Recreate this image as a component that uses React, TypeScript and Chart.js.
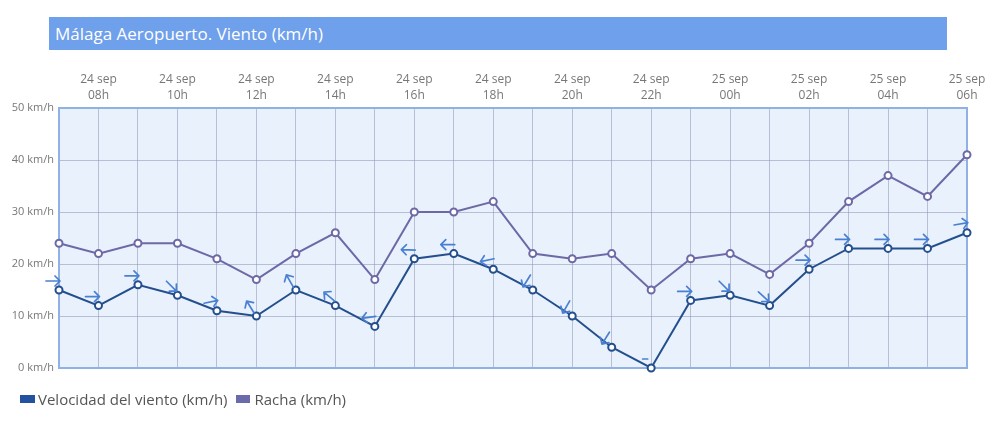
import React, { useEffect, useRef } from "react";
import { Chart, registerables } from "chart.js";

Chart.register(...registerables);

const dayLabels = ["24 sep","24 sep","24 sep","24 sep","24 sep","24 sep","24 sep","24 sep","24 sep","24 sep","24 sep","24 sep","24 sep","24 sep","24 sep","24 sep","24 sep","25 sep","25 sep","25 sep","25 sep","25 sep","25 sep","25 sep"];
const hourLabels = ["07h","08h","09h","10h","11h","12h","13h","14h","15h","16h","17h","18h","19h","20h","21h","22h","23h","00h","01h","02h","03h","04h","05h","06h"];
const windSpeed = [15,12,16,14,11,10,15,12,8,21,22,19,15,10,4,0,13,14,12,19,23,23,23,26];
const windGust = [24,22,24,24,21,17,22,26,17,30,30,32,22,21,22,15,21,22,18,24,32,37,33,41];
// arrow direction on screen, degrees (0 = pointing right, 90 = pointing down); null = calm
const windArrowAngles: (number | null)[] = [0,0,0,45,-12,-122,-120,-140,172,-178,180,168,122,120,122,null,0,45,42,0,0,0,0,-10];
const yTicks = [0,10,20,30,40,50];

const SPEED_COLOR = "#244f8d";
const GUST_COLOR = "#6d69a6";
const ARROW_COLOR = "#4a80d2";

const bgPlugin = {
  id: "plotBg",
  beforeDraw(chart: any) {
    const { ctx, chartArea: a } = chart;
    ctx.save();
    ctx.fillStyle = "#e9f1fc";
    ctx.fillRect(a.left, a.top, a.right - a.left, a.bottom - a.top);
    ctx.restore();
  },
  beforeDatasetsDraw(chart: any) {
    const { ctx, chartArea: a } = chart;
    ctx.save();
    ctx.strokeStyle = "#8fb1e4";
    ctx.lineWidth = 2;
    ctx.strokeRect(a.left, a.top, a.right - a.left, a.bottom - a.top);
    ctx.restore();
  },
};

const arrowPlugin = {
  id: "windArrows",
  afterDatasetsDraw(chart: any) {
    const meta = chart.getDatasetMeta(0);
    const ctx = chart.ctx;
    ctx.save();
    ctx.strokeStyle = ARROW_COLOR;
    ctx.lineWidth = 1.7;
    ctx.lineCap = "round";
    ctx.lineJoin = "round";
    meta.data.forEach((pt: any, i: number) => {
      const ang = windArrowAngles[i];
      ctx.save();
      ctx.translate(pt.x - 6, pt.y - 9);
      ctx.beginPath();
      if (ang === null) {
        ctx.moveTo(-2.5, 0);
        ctx.lineTo(2.5, 0);
      } else {
        ctx.rotate((ang * Math.PI) / 180);
        ctx.moveTo(-7, 0);
        ctx.lineTo(7, 0);
        ctx.moveTo(2, -5);
        ctx.lineTo(7, 0);
        ctx.lineTo(2, 5);
      }
      ctx.stroke();
      ctx.restore();
    });
    ctx.restore();
  },
};

export default function App() {
  const ref = useRef<HTMLCanvasElement>(null);
  useEffect(() => {
    if (!ref.current) return;
    const chart = new Chart(ref.current, {
      type: "line",
      data: {
        labels: hourLabels.map((h, i) => i),
        datasets: [
          {
            label: "Velocidad del viento (km/h)",
            data: windSpeed,
            borderColor: SPEED_COLOR,
            backgroundColor: "#ffffff",
            borderWidth: 2,
            pointRadius: 3.5,
            pointBorderWidth: 2,
            pointBackgroundColor: "#ffffff",
            pointBorderColor: SPEED_COLOR,
            tension: 0,
            clip: false as any,
          },
          {
            label: "Racha (km/h)",
            data: windGust,
            borderColor: GUST_COLOR,
            backgroundColor: "#ffffff",
            borderWidth: 2,
            pointRadius: 3.5,
            pointBorderWidth: 2,
            pointBackgroundColor: "#ffffff",
            pointBorderColor: GUST_COLOR,
            tension: 0,
            clip: false as any,
          },
        ],
      },
      options: {
        animation: false,
        responsive: false,
        maintainAspectRatio: false,
        layout: { padding: { left: 0, right: 25, top: 0, bottom: 57 } },
        plugins: { legend: { display: false }, tooltip: { enabled: false }, title: { display: false } },
        scales: {
          x: {
            type: "category",
            position: "top",
            offset: false,
            grid: { color: "rgba(140,150,180,0.55)", lineWidth: 1, drawTicks: false },
            border: { display: false },
            ticks: {
              autoSkip: false,
              maxRotation: 0,
              padding: 4,
              color: "#777777",
              font: { family: "'Open Sans'", size: 12, lineHeight: 1.35 },
              callback: (v: any, i: number) => (i % 2 === 1 ? [dayLabels[i], hourLabels[i]] : ""),
            },
            afterFit: (s: any) => {
              s.height = 108;
            },
          },
          y: {
            min: yTicks[0],
            max: yTicks[yTicks.length - 1],
            grid: { color: "rgba(140,150,180,0.55)", lineWidth: 1, drawTicks: false },
            border: { display: false },
            afterBuildTicks: (s: any) => {
              s.ticks = yTicks.map((v) => ({ value: v }));
            },
            ticks: {
              padding: 5,
              color: "#777777",
              font: { family: "'Open Sans'", size: 11 },
              callback: (v: any) => `${v} km/h`,
            },
            afterFit: (s: any) => {
              s.width = 59;
            },
          },
        },
      },
      plugins: [bgPlugin, arrowPlugin],
    });
    return () => chart.destroy();
  }, []);

  return (
    <div style={{ position: "absolute", left: 0, top: 0, width: 992, height: 425, background: "#fff", fontFamily: "'Open Sans', sans-serif" }}>
      <div
        style={{
          position: "absolute",
          left: 49,
          top: 17,
          width: 892,
          height: 33,
          paddingLeft: 6,
          background: "#6fa0eb",
          color: "#ffffff",
          fontSize: 17,
          lineHeight: "33px",
          whiteSpace: "nowrap",
        }}
      >
        Málaga Aeropuerto. Viento (km/h)
      </div>
      <canvas ref={ref} width={992} height={425} style={{ position: "absolute", left: 0, top: 0, width: 992, height: 425 }} />
      <div style={{ position: "absolute", left: 20, top: 388, height: 22, display: "flex", alignItems: "center", fontSize: 15, color: "#555555", whiteSpace: "nowrap" }}>
        <span style={{ display: "inline-block", width: 15, height: 8, background: "#2452a0", marginRight: 3 }} />
        <span>Velocidad del viento (km/h)</span>
        <span style={{ display: "inline-block", width: 14, height: 8, background: "#6b6bab", marginLeft: 8, marginRight: 5 }} />
        <span>Racha (km/h)</span>
      </div>
    </div>
  );
}
